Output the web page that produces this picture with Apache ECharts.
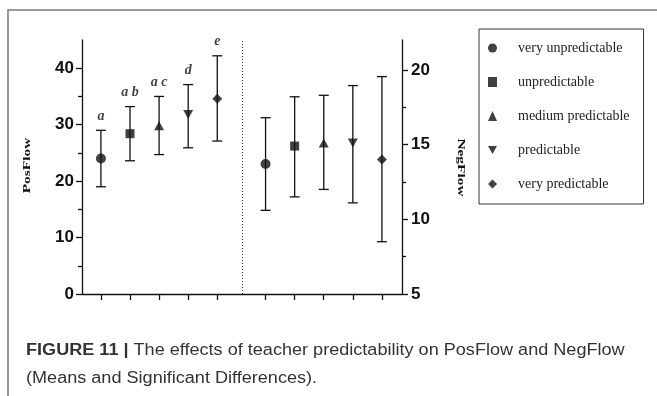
<!DOCTYPE html>
<html>
<head>
<meta charset="utf-8">
<script src="https://cdn.jsdelivr.net/npm/echarts@6/dist/echarts.min.js"></script>
<style>
  html, body { margin: 0; padding: 0; background: #fff; }
  #chart { width: 657px; height: 396px; }
</style>
</head>
<body>
<div id="chart"></div>
<script>
// Predictability levels (legend order)
const levels = ['very unpredictable', 'unpredictable', 'medium predictable', 'predictable', 'very predictable'];

// PosFlow: means and error-bar ends
const posMean = [24.0, 28.4, 29.8, 31.8, 34.6];
const posLow  = [19.0, 23.6, 24.7, 25.9, 27.1];
const posHigh = [29.0, 33.2, 35.0, 37.1, 42.2];
// Significance letters above each PosFlow bar
const posLetters = ['a', 'a b', 'a c', 'd', 'e'];

// NegFlow: means and error-bar ends
const negMean = [13.7, 14.9, 15.1, 15.1, 14.0];
const negLow  = [10.6, 11.5, 12.0, 11.1, 8.5];
const negHigh = [16.8, 18.2, 18.3, 18.95, 19.55];

// Axis tick labels
const posTicks = [0, 10, 20, 30, 40];
const posMinor = [5, 15, 25, 35];
const negTicks = [5, 10, 15, 20];
const negMinor = [7.5, 12.5, 17.5];

// ---- layout of the two groups along the shared x axis ----
const posStart = 0.65, negStart = 6.31, divider = 5.5;
const posX = levels.map((_, i) => posStart + i);
const negX = levels.map((_, i) => negStart + i);

const symbols = [
  'circle',
  'rect',
  'triangle',
  'path://M0,0L10,0L5,9Z',
  'path://M5,0L10,5L5,10L0,5Z'
];
const symbolSizes = [10, 9, [10, 9], [10, 9], [10, 10]];

const ink = '#111';
const serif = '"Liberation Serif", "Times New Roman", serif';
const sans = '"Liberation Sans", Arial, sans-serif';

function errorBars(xs, lows, highs, yIdx) {
  return {
    type: 'custom',
    xAxisIndex: 0,
    yAxisIndex: yIdx,
    silent: true,
    z: 2,
    data: xs.map((x, i) => [x, lows[i], highs[i]]),
    renderItem(params, api) {
      const lo = api.coord([api.value(0), api.value(1)]);
      const hi = api.coord([api.value(0), api.value(2)]);
      const half = 5;
      const style = { stroke: ink, lineWidth: 1.3 };
      return {
        type: 'group',
        children: [
          { type: 'line', shape: { x1: lo[0], y1: lo[1], x2: hi[0], y2: hi[1] }, style },
          { type: 'line', shape: { x1: hi[0] - half, y1: hi[1], x2: hi[0] + half, y2: hi[1] }, style },
          { type: 'line', shape: { x1: lo[0] - half, y1: lo[1], x2: lo[0] + half, y2: lo[1] }, style }
        ]
      };
    }
  };
}

const meanSeries = [];
levels.forEach((name, i) => {
  meanSeries.push({
    name, type: 'scatter', xAxisIndex: 0, yAxisIndex: 0, z: 3,
    symbol: symbols[i], symbolSize: symbolSizes[i],
    itemStyle: { color: ink },
    data: [[posX[i], posMean[i]]]
  });
  meanSeries.push({
    name, type: 'scatter', xAxisIndex: 0, yAxisIndex: 2, z: 3,
    symbol: symbols[i], symbolSize: symbolSizes[i],
    itemStyle: { color: ink },
    data: [[negX[i], negMean[i]]]
  });
});

const axisLine = { show: true, onZero: false, lineStyle: { color: ink, width: 1.3 } };
const tickFont = { color: ink, fontFamily: sans, fontWeight: 'bold', fontSize: 17 };

const chart = echarts.init(document.getElementById('chart'), null, { renderer: 'canvas' });
chart.setOption({
  animation: false,
  backgroundColor: '#fff',
  grid: { left: 82, right: 255, top: 40, bottom: 102 },
  xAxis: {
    type: 'value', min: 0, max: 11,
    axisLine,
    axisTick: { show: true, customValues: posX.concat(negX), length: 6, lineStyle: { color: ink, width: 1.3 } },
    axisLabel: { show: false },
    splitLine: { show: false }
  },
  yAxis: [
    {
      type: 'value', position: 'left', min: 0, max: 45,
      axisLine,
      axisTick: { show: true, customValues: posTicks, length: 6, lineStyle: { color: ink, width: 1.3 } },
      axisLabel: Object.assign({ customValues: posTicks, margin: 8 }, tickFont),
      splitLine: { show: false }
    },
    {
      type: 'value', position: 'left', min: 0, max: 45,
      axisLine: { show: false },
      axisTick: { show: true, customValues: posMinor, length: 4, lineStyle: { color: ink, width: 1.3 } },
      axisLabel: { show: false },
      splitLine: { show: false }
    },
    {
      type: 'value', position: 'right', min: 5, max: 22,
      axisLine,
      axisTick: { show: true, customValues: negTicks, length: 6, lineStyle: { color: ink, width: 1.3 } },
      axisLabel: Object.assign({ customValues: negTicks, margin: 9 }, tickFont),
      splitLine: { show: false }
    },
    {
      type: 'value', position: 'right', min: 5, max: 22,
      axisLine: { show: false },
      axisTick: { show: true, customValues: negMinor, length: 4, lineStyle: { color: ink, width: 1.3 } },
      axisLabel: { show: false },
      splitLine: { show: false }
    }
  ],
  legend: {
    orient: 'vertical',
    left: 479, top: 29,
    padding: [12, 14, 13, 9],
    itemGap: 20,
    itemWidth: 9, itemHeight: 10,
    borderColor: '#333', borderWidth: 1,
    data: levels,
    selectedMode: false,
    textStyle: { fontFamily: serif, fontSize: 14, lineHeight: 14, color: '#222', padding: [0, 0, 0, 16] }
  },
  graphic: [
    { type: 'polyline', silent: true, shape: { points: [[8, 396], [8, 10], [657, 10]] }, style: { stroke: '#777', lineWidth: 1.5, fill: null } },
    { type: 'text', silent: true, x: 27.5, y: 165.5, rotation: Math.PI / 2, scaleX: 1.4,
      style: { text: 'PosFlow', fontFamily: serif, fontWeight: 'bold', fontSize: 11, fill: ink, align: 'center', verticalAlign: 'middle' } },
    { type: 'text', silent: true, x: 460.5, y: 167.5, rotation: -Math.PI / 2, scaleX: 1.4,
      style: { text: 'NegFlow', fontFamily: serif, fontWeight: 'bold', fontSize: 11, fill: ink, align: 'center', verticalAlign: 'middle' } },
    { type: 'text', silent: true, x: 26, y: 351, scaleX: 1.13,
      style: {
        text: '{b|FIGURE 11 |} The effects of teacher predictability on PosFlow and NegFlow',
        fontFamily: sans, fontSize: 16, fill: '#333', verticalAlign: 'middle',
        rich: { b: { fontFamily: sans, fontSize: 16, fontWeight: 'bold', fill: '#333' } }
      } },
    { type: 'text', silent: true, x: 26, y: 378.5, scaleX: 1.13,
      style: { text: '(Means and Significant Differences).', fontFamily: sans, fontSize: 16, fill: '#333', verticalAlign: 'middle' } }
  ],
  series: [
    errorBars(posX, posLow, posHigh, 0),
    errorBars(negX, negLow, negHigh, 2),
    ...meanSeries,
    {
      // significance letters sitting above each PosFlow bar
      type: 'scatter', xAxisIndex: 0, yAxisIndex: 0, silent: true,
      symbol: 'circle', symbolSize: 2,
      itemStyle: { color: 'rgba(0,0,0,0)' },
      data: posX.map((x, i) => [x, posHigh[i]]),
      label: {
        show: true, position: 'top', distance: 6,
        formatter: p => posLetters[p.dataIndex],
        fontFamily: serif, fontStyle: 'italic', fontWeight: 'bold', fontSize: 14, color: ink
      }
    },
    {
      // dotted divider between the PosFlow and NegFlow groups
      type: 'line', xAxisIndex: 0, yAxisIndex: 0, data: [], silent: true,
      markLine: {
        silent: true, symbol: 'none', label: { show: false },
        lineStyle: { type: [1, 2], color: '#444', width: 1 },
        data: [{ xAxis: divider }]
      }
    }
  ]
});
</script>
</body>
</html>
